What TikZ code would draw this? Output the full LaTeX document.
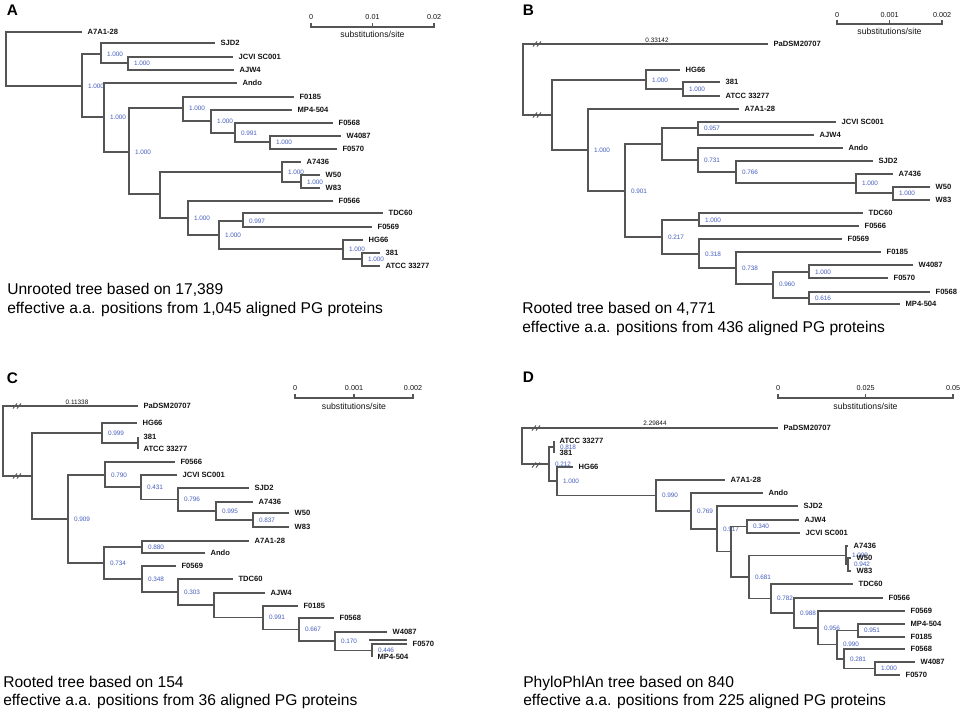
\documentclass[tikz,border=0pt]{standalone}
\usepackage{fontspec}
\setmainfont{Liberation Sans}
\definecolor{lc}{RGB}{85,85,85}
\definecolor{bc}{RGB}{70,95,190}
\definecolor{tc}{RGB}{20,20,20}
\tikzset{
 br/.style={draw=lc, line width=0.85pt},
 tiplab/.style={anchor=west, font=\fontsize{5.7}{6}\selectfont\bfseries, inner xsep=4pt, inner ysep=0pt, text height=4.1pt, text depth=0pt, text=tc},
 suplab/.style={anchor=west, font=\fontsize{4.8}{5}\selectfont, inner xsep=4.3pt, inner ysep=0pt, text height=3.4pt, text depth=0pt, text=bc},
 blen/.style={font=\fontsize{4.8}{5}\selectfont, inner sep=0pt, text=tc},
 plet/.style={font=\fontsize{11.5}{12}\selectfont\bfseries, inner sep=0pt, text height=8.3pt, text depth=0pt},
 captxt/.style={anchor=base west, font=\fontsize{11.7}{14}\selectfont, inner sep=0pt, text=black},
 stk/.style={font=\fontsize{5.4}{6}\selectfont, inner sep=0pt, text=tc},
 ssub/.style={font=\fontsize{6.5}{7}\selectfont, inner sep=0pt, text=tc},
}
\newcommand\mktip[4]{\node[tiplab] (#1) at (#2,#3) {#4};}
\newcommand\mkint[4]{\coordinate (#1) at (#2,#3); \node[suplab] (#1l) at (#1) {#4};}
\newcommand\brkmark[2]{\draw[br, line width=0.7pt] (#1-4,#2+2.5) -- (#1,#2-2.5) (#1,#2+2.5) -- (#1+4,#2-2.5);}
\begin{document}
\begin{tikzpicture}[x=0.75pt,y=-0.75pt]
\fill[white] (0,0) rectangle (969,719);
\useasboundingbox (0,0) rectangle (969,719);

% ================= Panel A =================
\node[plet] (letA) at (12.5,9.5) {A};
\coordinate (Ar) at (6,59);
\mktip{aA7A1}{82}{32}{A7A1-28}
\mkint{nA1}{82}{86}{1.000}
\mkint{nA2}{101}{54}{1.000}
\mktip{aSJD2}{215}{43}{SJD2}
\mkint{nA3}{128}{63}{1.000}
\mktip{aJCVI}{233}{57}{JCVI SC001}
\mktip{aAJW4}{234}{70}{AJW4}
\mkint{nA4}{104}{117}{1.000}
\mktip{aAndo}{237}{83}{Ando}
\mkint{nA5}{129}{152}{1.000}
\mkint{nA6}{183}{108}{1.000}
\mktip{aF0185}{294}{97}{F0185}
\mkint{nA7}{211}{121}{1.000}
\mktip{aMP4}{292}{110}{MP4-504}
\mkint{nA8}{235}{133}{0.991}
\mktip{aF0568}{333}{123}{F0568}
\mkint{nA9}{270}{142}{1.000}
\mktip{aW4087}{341}{136}{W4087}
\mktip{aF0570}{337}{149}{F0570}
\coordinate (nA10) at (160,194);
\mkint{nA11}{282}{172}{1.000}
\mktip{aA7436}{301}{162}{A7436}
\mkint{nA12}{301}{182}{1.000}
\mktip{aW50}{320}{175}{W50}
\mktip{aW83}{320}{188}{W83}
\mkint{nA13}{188}{218}{1.000}
\mktip{aF0566}{333}{201}{F0566}
\mkint{nA14}{219}{235}{1.000}
\mkint{nA15}{243}{221}{0.997}
\mktip{aTDC60}{383}{213}{TDC60}
\mktip{aF0569}{372}{227}{F0569}
\mkint{nA16}{343}{249}{1.000}
\mktip{aHG66}{363}{240}{HG66}
\mkint{nA17}{362}{259}{1.000}
\mktip{a381}{380}{253}{381}
\mktip{aATCC}{380}{266}{ATCC 33277}
\draw[br] (Ar) |- (aA7A1) (Ar) |- (nA1)
 (nA1) |- (nA2) (nA1) |- (nA4)
 (nA2) |- (aSJD2) (nA2) |- (nA3)
 (nA3) |- (aJCVI) (nA3) |- (aAJW4)
 (nA4) |- (aAndo) (nA4) |- (nA5)
 (nA5) |- (nA6) (nA5) |- (nA10)
 (nA6) |- (aF0185) (nA6) |- (nA7)
 (nA7) |- (aMP4) (nA7) |- (nA8)
 (nA8) |- (aF0568) (nA8) |- (nA9)
 (nA9) |- (aW4087) (nA9) |- (aF0570)
 (nA10) |- (nA11) (nA10) |- (nA13)
 (nA11) |- (aA7436) (nA11) |- (nA12)
 (nA12) |- (aW50) (nA12) |- (aW83)
 (nA13) |- (aF0566) (nA13) |- (nA14)
 (nA14) |- (nA15) (nA14) |- (nA16)
 (nA15) |- (aTDC60) (nA15) |- (aF0569)
 (nA16) |- (aHG66) (nA16) |- (nA17)
 (nA17) |- (a381) (nA17) |- (aATCC);
% scale A
\coordinate (sA0) at (311,27); \coordinate (sA1) at (372.5,27); \coordinate (sA2) at (434,27);
\draw[br] (311,23) -- (sA0) -- (sA2) -- (434,23) (sA1) -- (372.5,23);
\node[stk] (sA0l) at (311,17) {0};
\node[stk] (sA1l) at (372.5,17) {0.01};
\node[stk] (sA2l) at (434,17) {0.02};
\node[ssub] (sAs) at (372.5,34) {substitutions/site};
\node[captxt] (capA1) at (7,294) {Unrooted tree based on 17,389};
\node[captxt] (capA2) at (7,313) {effective a.a. positions from 1,045 aligned PG proteins};

% ================= Panel B =================
\node[plet] (letB) at (528.5,9.5) {B};
\coordinate (Br) at (523,79.5);
\mktip{bPa}{768}{44}{PaDSM20707}
\node[blen] (bPalen) at (657,40) {0.33142};
\coordinate (nB1) at (552,115);
\mkint{nB2}{646}{80}{1.000}
\mktip{bHG66}{680}{70}{HG66}
\mkint{nB3}{683}{89}{1.000}
\mktip{b381}{720}{82}{381}
\mktip{bATCC}{720}{96}{ATCC 33277}
\mkint{nB4}{588}{150}{1.000}
\mktip{bA7A1}{739}{109}{A7A1-28}
\mkint{nB5}{625}{191}{0.901}
\coordinate (nB6) at (662,144);
\mkint{nB7}{698}{128}{0.957}
\mktip{bJCVI}{836}{122}{JCVI SC001}
\mktip{bAJW4}{814}{135}{AJW4}
\mkint{nB8}{698}{160}{0.731}
\mktip{bAndo}{843}{148}{Ando}
\mkint{nB9}{736}{172}{0.766}
\mktip{bSJD2}{873}{161}{SJD2}
\mkint{nB10}{856}{183}{1.000}
\mktip{bA7436}{893}{174}{A7436}
\mkint{nB11}{893}{193}{1.000}
\mktip{bW50}{930}{187}{W50}
\mktip{bW83}{930}{200}{W83}
\mkint{nB12}{662}{237}{0.217}
\mkint{nB13}{699}{220}{1.000}
\mktip{bTDC60}{863}{213}{TDC60}
\mktip{bF0566}{859}{226}{F0566}
\mkint{nB14}{699}{254}{0.318}
\mktip{bF0569}{842}{239}{F0569}
\mkint{nB15}{736}{268}{0.738}
\mktip{bF0185}{881}{252}{F0185}
\mkint{nB16}{773}{284}{0.960}
\mkint{nB17}{809}{272}{1.000}
\mktip{bW4087}{913}{265}{W4087}
\mktip{bF0570}{888}{278}{F0570}
\mkint{nB18}{809}{298}{0.616}
\mktip{bF0568}{930}{292}{F0568}
\mktip{bMP4}{900}{304}{MP4-504}
\draw[br] (Br) |- (bPa) (Br) |- (nB1)
 (nB1) |- (nB2) (nB1) |- (nB4)
 (nB2) |- (bHG66) (nB2) |- (nB3)
 (nB3) |- (b381) (nB3) |- (bATCC)
 (nB4) |- (bA7A1) (nB4) |- (nB5)
 (nB5) |- (nB6) (nB5) |- (nB12)
 (nB6) |- (nB7) (nB6) |- (nB8)
 (nB7) |- (bJCVI) (nB7) |- (bAJW4)
 (nB8) |- (bAndo) (nB8) |- (nB9)
 (nB9) |- (bSJD2) (nB9) |- (nB10)
 (nB10) |- (bA7436) (nB10) |- (nB11)
 (nB11) |- (bW50) (nB11) |- (bW83)
 (nB12) |- (nB13) (nB12) |- (nB14)
 (nB13) |- (bTDC60) (nB13) |- (bF0566)
 (nB14) |- (bF0569) (nB14) |- (nB15)
 (nB15) |- (bF0185) (nB15) |- (nB16)
 (nB16) |- (nB17) (nB16) |- (nB18)
 (nB17) |- (bW4087) (nB17) |- (bF0570)
 (nB18) |- (bF0568) (nB18) |- (bMP4);
\brkmark{537}{44}
\brkmark{537}{115}
% scale B
\coordinate (sB0) at (837,24); \coordinate (sB1) at (889.5,24); \coordinate (sB2) at (942,24);
\draw[br] (837,20) -- (sB0) -- (sB2) -- (942,20) (sB1) -- (889.5,20);
\node[stk] (sB0l) at (837,15) {0};
\node[stk] (sB1l) at (889.5,15) {0.001};
\node[stk] (sB2l) at (942,15) {0.002};
\node[ssub] (sBs) at (889.5,31) {substitutions/site};
\node[captxt] (capB1) at (522,313) {Rooted tree based on 4,771};
\node[captxt] (capB2) at (522,332) {effective a.a. positions from 436 aligned PG proteins};

% ================= Panel C =================
\node[plet] (letC) at (12.5,378) {C};
\coordinate (Cr) at (3,441);
\mktip{cPa}{138}{406}{PaDSM20707}
\node[blen] (cPalen) at (77,402) {0.11338};
\coordinate (nC1) at (32,476);
\mkint{nC2}{102}{433}{0.999}
\mktip{cHG66}{137}{423}{HG66}
\coordinate (nC3) at (138,443);
\mktip{c381}{138}{437}{381}
\mktip{cATCC}{138}{449}{ATCC 33277}
\mkint{nC4}{68}{519}{0.909}
\mkint{nC5}{105}{475}{0.790}
\mktip{cF0566}{175}{462}{F0566}
\mkint{nC6}{141}{487}{0.431}
\mktip{cJCVI}{177}{475}{JCVI SC001}
\mkint{nC7}{178}{499.5}{0.796}
\mktip{cSJD2}{249}{488}{SJD2}
\mkint{nC8}{216}{511}{0.995}
\mktip{cA7436}{253}{502}{A7436}
\mkint{nC9}{253}{520}{0.837}
\mktip{cW50}{289}{513}{W50}
\mktip{cW83}{289}{527}{W83}
\mkint{nC10}{104}{563}{0.734}
\mkint{nC11}{142}{547}{0.880}
\mktip{cA7A1}{249}{541}{A7A1-28}
\mktip{cAndo}{205}{553}{Ando}
\mkint{nC12}{142}{579}{0.348}
\mktip{cF0569}{176}{566}{F0569}
\mkint{nC13}{178}{592}{0.303}
\mktip{cTDC60}{233}{579}{TDC60}
\coordinate (nC14) at (214,605);
\mktip{cAJW4}{265}{593}{AJW4}
\mkint{nC15}{263}{617.5}{0.991}
\mktip{cF0185}{298}{606}{F0185}
\mkint{nC16}{299}{629.5}{0.667}
\mktip{cF0568}{334}{618}{F0568}
\mkint{nC17}{335}{641}{0.170}
\mktip{cW4087}{387}{632}{W4087}
\mkint{nC18}{372}{650.5}{0.446}
\mktip{cF0570}{407}{644}{F0570}
\mktip{cMP4}{372}{657}{MP4-504}
\draw[br] (Cr) |- (cPa) (Cr) |- (nC1)
 (nC1) |- (nC2) (nC1) |- (nC4)
 (nC2) |- (cHG66) (nC2) |- (nC3)
 (nC3) |- (c381) (nC3) |- (cATCC)
 (nC4) |- (nC5) (nC4) |- (nC10)
 (nC5) |- (cF0566) (nC5) |- (nC6)
 (nC6) |- (cJCVI) (nC6) |- (nC7)
 (nC7) |- (cSJD2) (nC7) |- (nC8)
 (nC8) |- (cA7436) (nC8) |- (nC9)
 (nC9) |- (cW50) (nC9) |- (cW83)
 (nC10) |- (nC11) (nC10) |- (nC12)
 (nC11) |- (cA7A1) (nC11) |- (cAndo)
 (nC12) |- (cF0569) (nC12) |- (nC13)
 (nC13) |- (cTDC60) (nC13) |- (nC14)
 (nC14) |- (cAJW4) (nC14) |- (nC15)
 (nC15) |- (cF0185) (nC15) |- (nC16)
 (nC16) |- (cF0568) (nC16) |- (nC17)
 (nC17) |- (cW4087) (nC17) |- (nC18)
 (nC18) |- (cF0570) (nC18) |- (cMP4);
\coordinate (cX1) at (369,640); \coordinate (cX2) at (407,640);
\draw[br] (cX1) -- (cX2);
\brkmark{17}{406}
\brkmark{17}{476}
% scale C
\coordinate (sC0) at (295,398); \coordinate (sC1) at (354,398); \coordinate (sC2) at (413,398);
\draw[br] (295,394) -- (sC0) -- (sC2) -- (413,394) (sC1) -- (354,394);
\node[stk] (sC0l) at (295,388) {0};
\node[stk] (sC1l) at (354,388) {0.001};
\node[stk] (sC2l) at (413,388) {0.002};
\node[ssub] (sCs) at (354,406) {substitutions/site};
\node[captxt] (capC1) at (3,687) {Rooted tree based on 154};
\node[captxt] (capC2) at (3,705) {effective a.a. positions from 36 aligned PG proteins};

% ================= Panel D =================
\node[plet] (letD) at (528.5,377) {D};
\coordinate (Dr) at (522,446);
\mktip{dPa}{778}{428}{PaDSM20707}
\node[blen] (dPalen) at (655,423) {2.29844};
\mkint{nD1}{549}{464}{0.212}
\mkint{nD2}{554}{447}{0.818}
\mktip{dATCC}{554}{441}{ATCC 33277}
\mktip{d381}{554}{453}{381}
\mkint{nD3}{557}{481}{1.000}
\mktip{dHG66}{573}{467}{HG66}
\mkint{nD4}{656}{495.5}{0.990}
\mktip{dA7A1}{725}{480}{A7A1-28}
\mkint{nD5}{691}{511}{0.769}
\mktip{dAndo}{763}{493}{Ando}
\mkint{nD6}{717}{529}{0.917}
\mktip{dSJD2}{798}{506}{SJD2}
\coordinate (nD7) at (731,551.5);
\mkint{nD8}{747}{526.5}{0.340}
\mktip{dAJW4}{799}{520}{AJW4}
\mktip{dJCVI}{800}{533}{JCVI SC001}
\mkint{nD9}{749}{577}{0.681}
\mkint{nD10}{846}{555.5}{1.000}
\mktip{dA7436}{848}{546}{A7436}
\mkint{nD11}{848}{564.5}{0.942}
\mktip{dW50}{851}{558}{W50}
\mktip{dW83}{851}{571}{W83}
\mkint{nD12}{771}{598.5}{0.782}
\mktip{dTDC60}{853}{584}{TDC60}
\mkint{nD13}{794}{613}{0.988}
\mktip{dF0566}{883}{598}{F0566}
\mkint{nD14}{818}{628}{0.956}
\mktip{dF0569}{905}{611}{F0569}
\mkint{nD15}{837}{644.5}{0.990}
\mkint{nD16}{858}{630.5}{0.951}
\mktip{dMP4}{905}{624}{MP4-504}
\mktip{dF0185}{905}{637}{F0185}
\mkint{nD17}{844}{659}{0.281}
\mktip{dF0568}{905}{649}{F0568}
\mkint{nD18}{875}{668.5}{1.000}
\mktip{dW4087}{915}{662}{W4087}
\mktip{dF0570}{900}{675}{F0570}
\draw[br] (Dr) |- (dPa) (Dr) |- (nD1)
 (nD1) |- (nD2) (nD1) |- (nD3)
 (nD2) |- (dATCC) (nD2) |- (d381)
 (nD3) |- (dHG66) (nD3) |- (nD4)
 (nD4) |- (dA7A1) (nD4) |- (nD5)
 (nD5) |- (dAndo) (nD5) |- (nD6)
 (nD6) |- (dSJD2) (nD6) |- (nD7)
 (nD7) |- (nD8) (nD7) |- (nD9)
 (nD8) |- (dAJW4) (nD8) |- (dJCVI)
 (nD9) |- (nD10) (nD9) |- (nD12)
 (nD10) |- (dA7436) (nD10) |- (nD11)
 (nD11) |- (dW50) (nD11) |- (dW83)
 (nD12) |- (dTDC60) (nD12) |- (nD13)
 (nD13) |- (dF0566) (nD13) |- (nD14)
 (nD14) |- (dF0569) (nD14) |- (nD15)
 (nD15) |- (nD16) (nD15) |- (nD17)
 (nD16) |- (dMP4) (nD16) |- (dF0185)
 (nD17) |- (dF0568) (nD17) |- (nD18)
 (nD18) |- (dW4087) (nD18) |- (dF0570);
\brkmark{536}{428}
\brkmark{536}{465}
% scale D
\coordinate (sD0) at (778,398); \coordinate (sD1) at (865.5,398); \coordinate (sD2) at (953,398);
\draw[br] (778,394) -- (sD0) -- (sD2) -- (953,394) (sD1) -- (865.5,394);
\node[stk] (sD0l) at (778,388) {0};
\node[stk] (sD1l) at (865.5,388) {0.025};
\node[stk] (sD2l) at (953,388) {0.05};
\node[ssub] (sDs) at (865.5,406) {substitutions/site};
\node[captxt] (capD1) at (523,687) {PhyloPhlAn tree based on 840};
\node[captxt] (capD2) at (523,705) {effective a.a. positions from 225 aligned PG proteins};
\end{tikzpicture}
\end{document}
